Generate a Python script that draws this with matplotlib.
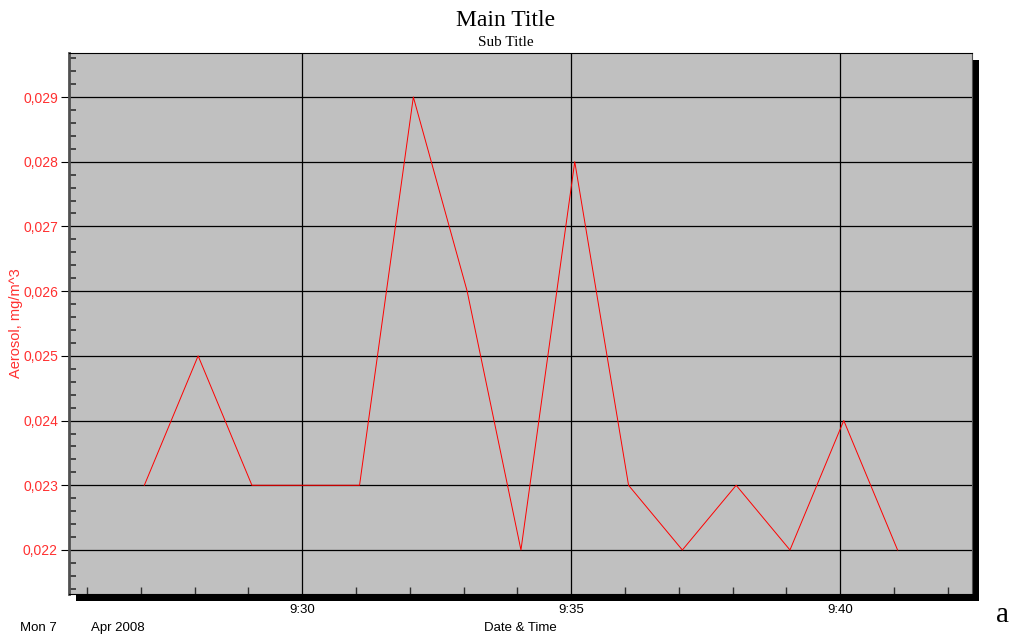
import matplotlib
matplotlib.use("Agg")
import matplotlib.pyplot as plt
import matplotlib.dates as mdates
from matplotlib.ticker import MultipleLocator, FuncFormatter, FixedLocator
from matplotlib.patches import Rectangle
import datetime as dt

plt.rcParams["font.family"] = ["Liberation Sans", "DejaVu Sans"]

# Data
times = ["09:27:04", "09:28:04", "09:29:04", "09:30:04", "09:31:04",
         "09:32:04", "09:33:04", "09:34:04", "09:35:04", "09:36:04",
         "09:37:04", "09:38:04", "09:39:04", "09:40:04", "09:41:04"]
aerosol = [0.023, 0.025, 0.023, 0.023, 0.023,
           0.029, 0.026, 0.022, 0.028, 0.023,
           0.022, 0.023, 0.022, 0.024, 0.022]
y_ticks = [0.022, 0.023, 0.024, 0.025, 0.026, 0.027, 0.028, 0.029]
x_ticks = ["09:30", "09:35", "09:40"]

day = dt.date(2008, 4, 7)
def to_dt(s):
    return dt.datetime.combine(day, dt.time.fromisoformat(s))

xs = [to_dt(t) for t in times]

fig = plt.figure(figsize=(10.2, 6.37), dpi=100)
ax = fig.add_axes([69 / 1020, 43 / 637, 903 / 1020, 541 / 637])
ax.set_zorder(2)
ax.set_facecolor("#c0c0c0")

# drop shadow behind the plot area
shadow = Rectangle((76 / 1020, 36 / 637), 903 / 1020, 541 / 637,
                   transform=fig.transFigure, facecolor="black",
                   edgecolor="none", zorder=0)
fig.patches.append(shadow)

ax.plot(xs, aerosol, color="#ff0000", linewidth=0.7)

ax.set_xlim(to_dt("09:25:40"), to_dt("09:42:27"))
ax.set_ylim(0.02132, 0.02968)

ax.xaxis.set_major_locator(FixedLocator([mdates.date2num(to_dt(t)) for t in x_ticks]))
ax.xaxis.set_major_formatter(FuncFormatter(
    lambda v, p: mdates.num2date(v).strftime("%H:%M").lstrip("0")))
ax.xaxis.set_minor_locator(mdates.MinuteLocator())
ax.yaxis.set_major_locator(FixedLocator(y_ticks))
ax.yaxis.set_major_formatter(FuncFormatter(lambda v, p: ("%.3f" % v).replace(".", ",")))
ax.yaxis.set_minor_locator(MultipleLocator(0.0002))

ax.grid(True, which="major", color="black", linewidth=0.9)
ax.tick_params(axis="x", which="major", length=0, pad=7, labelsize=9.5)
ax.tick_params(axis="x", which="minor", direction="in", length=5, width=1, color="#303030")
ax.tick_params(axis="y", which="major", direction="out", length=6, color="black",
               labelcolor="#ff3030", labelsize=10, pad=2)
ax.tick_params(axis="y", which="minor", direction="in", length=5, width=1.2, color="#303030")

for s in ["left", "right"]:
    ax.spines[s].set_color("#505050")
ax.spines["left"].set_linewidth(2)
ax.spines["top"].set_color("black")
ax.spines["bottom"].set_color("black")

ax.set_ylabel("Aerosol, mg/m^3", color="#ff3030", fontsize=10.5)
ax.yaxis.set_label_coords(-46 / 903, 0.5)

fig.text(0.496, 1 - 21 / 637, "Main Title", ha="center", va="center",
         family="Liberation Serif", fontsize=17)
fig.text(0.496, 1 - 42 / 637, "Sub Title", ha="center", va="center",
         family="Liberation Serif", fontsize=11)
fig.text(20 / 1020, 1 - 628 / 637, "Mon 7", ha="left", va="center", fontsize=9.5)
fig.text(91 / 1020, 1 - 628 / 637, "Apr 2008", ha="left", va="center", fontsize=9.5)
fig.text(520 / 1020, 1 - 628 / 637, "Date & Time", ha="center", va="center", fontsize=9.5)
fig.text(1003 / 1020, 1 - 615 / 637, "a", ha="center", va="center",
         family="Liberation Serif", fontsize=21)

fig.savefig("out.png", dpi=100)
